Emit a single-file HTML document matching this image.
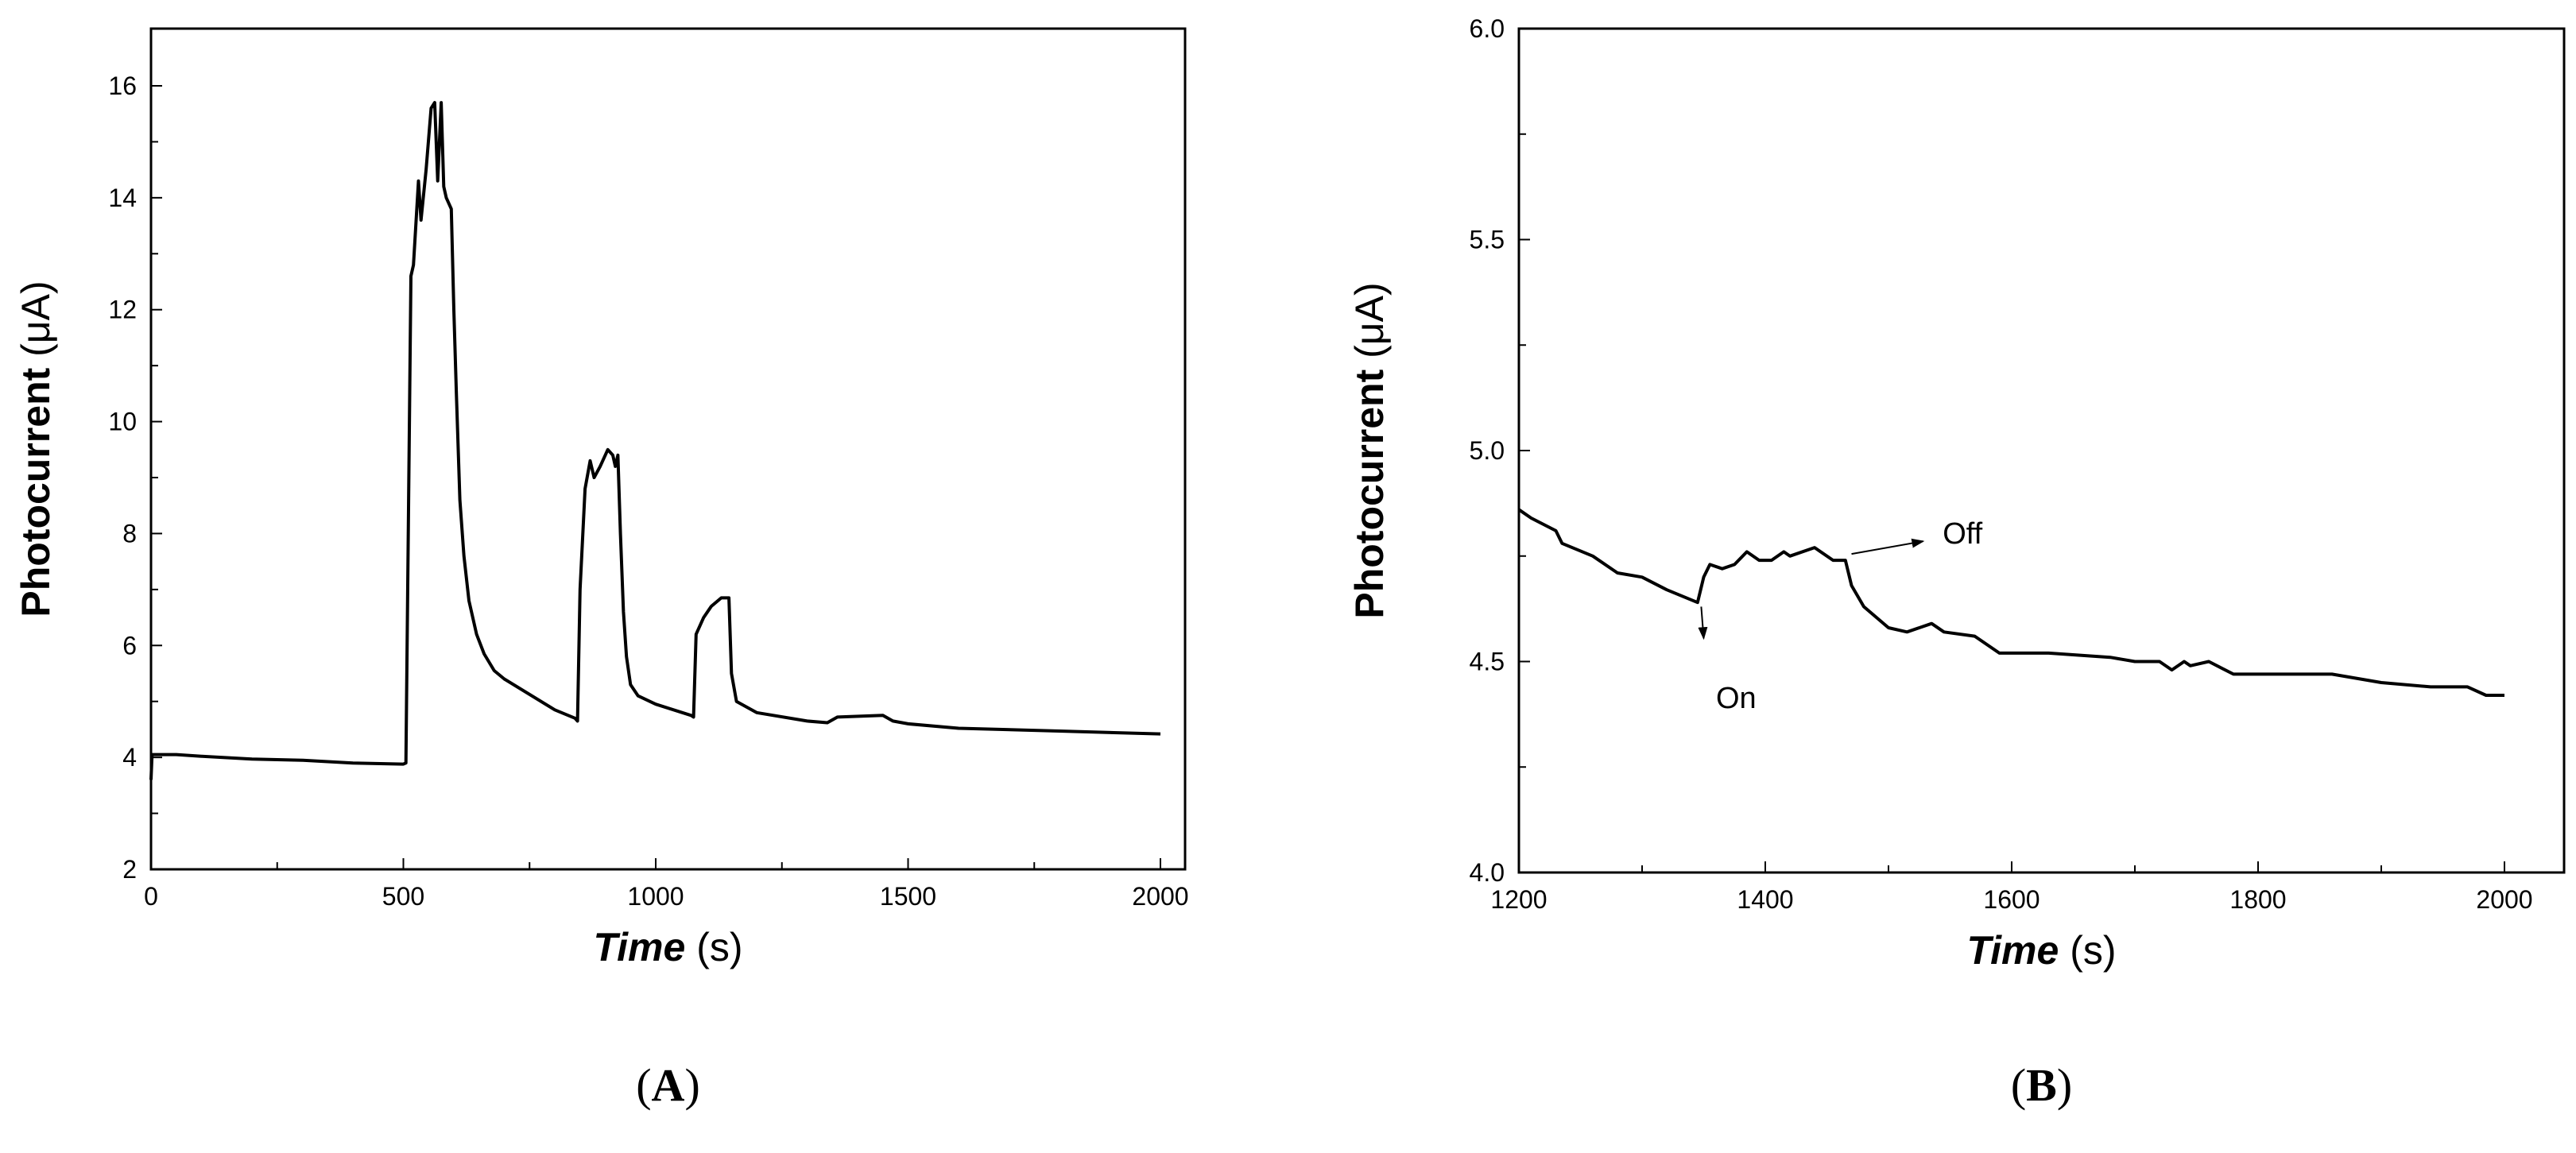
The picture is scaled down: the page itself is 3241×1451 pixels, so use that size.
<!DOCTYPE html>
<html><head><meta charset="utf-8"><style>
body{margin:0;background:#fff}
svg{display:block}
text{font-family:"Liberation Sans",Arial,sans-serif;fill:#000}
</style></head><body>
<svg id="c" width="3241" height="1451" viewBox="0 0 3241 1451" xmlns="http://www.w3.org/2000/svg"></svg>
<script>
// Panel A data
const aTime=[0,2,50,100,200,300,400,500,505,515,520,530,535,545,555,562,568,575,580,585,595,600,605,612,620,630,645,660,680,700,800,840,845,850,860,870,878,890,905,915,920,925,930,936,942,950,965,1000,1070,1075,1080,1095,1110,1130,1145,1150,1160,1200,1300,1340,1360,1450,1470,1500,1600,1800,2000];
const aCurrent=[3.6,4.05,4.05,4.02,3.97,3.95,3.9,3.88,3.9,12.6,12.8,14.3,13.6,14.5,15.6,15.7,14.3,15.7,14.2,14.0,13.8,12,10.5,8.6,7.6,6.8,6.2,5.85,5.55,5.4,4.85,4.7,4.65,7,8.8,9.3,9.0,9.2,9.5,9.4,9.2,9.4,8,6.6,5.8,5.3,5.1,4.95,4.75,4.72,6.2,6.5,6.7,6.85,6.85,5.5,5.0,4.8,4.65,4.62,4.72,4.75,4.65,4.6,4.52,4.47,4.42];
const aXTicks=[0,500,1000,1500,2000];
const aYTicks=[2,4,6,8,10,12,14,16];
// Panel B data
const bTime=[1200,1210,1230,1235,1260,1280,1300,1320,1345,1350,1355,1365,1375,1385,1395,1405,1415,1420,1440,1455,1465,1470,1480,1500,1515,1525,1535,1545,1570,1590,1630,1680,1700,1720,1730,1740,1745,1760,1780,1820,1860,1900,1940,1970,1985,2000];
const bCurrent=[4.86,4.84,4.81,4.78,4.75,4.71,4.7,4.67,4.64,4.7,4.73,4.72,4.73,4.76,4.74,4.74,4.76,4.75,4.77,4.74,4.74,4.68,4.63,4.58,4.57,4.58,4.59,4.57,4.56,4.52,4.52,4.51,4.5,4.5,4.48,4.5,4.49,4.5,4.47,4.47,4.47,4.45,4.44,4.44,4.42,4.42];
const bXTicks=[1200,1400,1600,1800,2000];
const bYTicks=["4.0","4.5","5.0","5.5","6.0"];

const svg=document.getElementById('c');
const NS='http://www.w3.org/2000/svg';
function mk(tag,attrs,parent){const e=document.createElementNS(NS,tag);for(const k in attrs)e.setAttribute(k,attrs[k]);(parent||svg).appendChild(e);return e;}

function panel(p){
  const g=mk('g',{});
  
  
  const sx=v=>p.x0+(v-p.xmin)/(p.xmax-p.xmin)*(p.x1-p.x0);
  const sy=v=>p.y0-(v-p.ymin)/(p.ymax-p.ymin)*(p.y0-p.y1);
  const box=mk('rect',{x:p.L,y:p.T,width:p.R-p.L,height:p.y0-p.T,fill:'none',stroke:'#000','stroke-width':3},g);
  
  
  for(let v=p.xmin;v<=p.xmax+1e-9;v+=p.xminor){
    const major=Math.abs(((v-p.xmin)/p.xmajor)-Math.round((v-p.xmin)/p.xmajor))<1e-6;
    mk('line',{x1:sx(v),x2:sx(v),y1:p.y0,y2:p.y0-(major?14:9),stroke:'#000','stroke-width':2},g);
  }
  p.xt.forEach(v=>{const t=mk('text',{x:sx(+v),y:p.y0+45,'font-size':32,'text-anchor':'middle'},g);t.textContent=v;
    });
  for(let v=p.ymin;v<=p.ymax+1e-9;v+=p.yminor){
    const major=Math.abs(((v-p.ymin)/p.ymajor)-Math.round((v-p.ymin)/p.ymajor))<1e-6;
    mk('line',{x1:p.L,x2:p.L+(major?14:9),y1:sy(v),y2:sy(v),stroke:'#000','stroke-width':2},g);
  }
  p.yt.forEach(v=>{const t=mk('text',{x:p.L-18,y:sy(+v)+11,'font-size':32,'text-anchor':'end'},g);t.textContent=v;
    });
  const d=p.tx.map((t,i)=>(i?'L':'M')+sx(t).toFixed(1)+','+sy(p.ty[i]).toFixed(1)).join('');
  const path=mk('path',{d:d,fill:'none',stroke:'#000','stroke-width':4,'stroke-linejoin':'round'},g);
  
  
  const xt=mk('text',{x:(p.L+p.R)/2,y:p.y0+115,'font-size':50,'text-anchor':'middle'},g);
  xt.innerHTML='<tspan font-weight="bold" font-style="italic">Time</tspan> (s)';
  
  const cy=(p.T+p.y0)/2;
  const yt=mk('text',{x:p.ytx,y:cy,'font-size':50,'text-anchor':'middle',transform:`rotate(-90 ${p.ytx} ${cy})`},g);
  yt.innerHTML='<tspan font-weight="bold">Photocurrent</tspan> (μA)';
  
  const lab=mk('text',{x:(p.L+p.R)/2,y:1385,'font-size':58,'text-anchor':'middle',style:'font-family:"Liberation Serif",serif'},g);
  lab.innerHTML='(<tspan font-weight="bold">'+p.label+'</tspan>)';
  
  return {g,sx,sy};
}
panel({name:'panel-a',L:190,R:1491,T:36,x0:190,x1:1460,xmin:0,xmax:2000,y0:1094,y1:108,ymin:2,ymax:16,
  xminor:250,xmajor:500,yminor:1,ymajor:2,xt:aXTicks,yt:aYTicks,tx:aTime,ty:aCurrent,ytx:62,label:'A'});
const B=panel({name:'panel-b',L:1911,R:3226,T:36,x0:1911,x1:3151,xmin:1200,xmax:2000,y0:1098,y1:36,ymin:4,ymax:6,
  xminor:100,xmajor:200,yminor:0.25,ymajor:0.5,xt:bXTicks,yt:bYTicks,tx:bTime,ty:bCurrent,ytx:1740,label:'B'});
mk('defs',{}).innerHTML='<marker id="ah" markerWidth="8" markerHeight="8" refX="7" refY="4" orient="auto"><path d="M0,1L8,4L0,7z" fill="#000"/></marker>';
const a1=mk('line',{x1:B.sx(1348),y1:B.sy(4.63),x2:B.sx(1350),y2:B.sy(4.555),stroke:'#000','stroke-width':2,'marker-end':'url(#ah)'},B.g);

const t1=mk('text',{x:B.sx(1360),y:B.sy(4.39),'font-size':38},B.g);t1.textContent='On';

const a2=mk('line',{x1:B.sx(1470),y1:B.sy(4.755),x2:B.sx(1528),y2:B.sy(4.785),stroke:'#000','stroke-width':2,'marker-end':'url(#ah)'},B.g);

const t2=mk('text',{x:B.sx(1544),y:B.sy(4.78),'font-size':38},B.g);t2.textContent='Off';

</script>
</body></html>
